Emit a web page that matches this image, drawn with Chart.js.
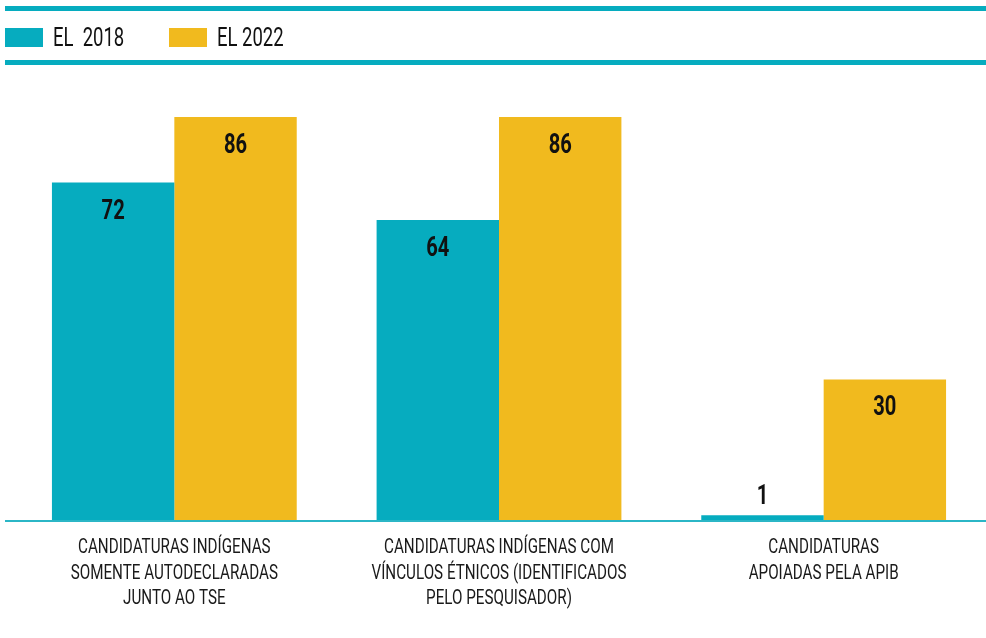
<!DOCTYPE html>
<html>
<head>
<meta charset="utf-8">
<script src="https://cdn.jsdelivr.net/npm/chart.js@4"></script>
<style>
  body { margin: 0; background: #fff; }
  #wrap { position: relative; width: 986px; height: 638px; }
  .rule { position: absolute; left: 5px; width: 981px; height: 5px; background: #06acbf; }
  #legend { position: absolute; left: 5px; top: 28px; height: 19px; display: flex; align-items: center;
            font-family: Roboto, 'Liberation Sans', sans-serif; font-size: 25px; color: #111; white-space: pre; }
  .item { display: flex; align-items: center; width: 164px; }
  .box { width: 38px; height: 19px; margin-right: 10px; flex: none; }
  .item span { display: inline-block; transform: scaleX(0.74); transform-origin: left center; line-height: 19px; }
</style>
</head>
<body>
<div id="wrap">
  <div class="rule" style="top:6px"></div>
  <div id="legend"></div>
  <div class="rule" style="top:60px"></div>
  <canvas id="myChart"></canvas>
</div>
<script>
// Categories (multi-line labels) and series
const categories = [
    ['CANDIDATURAS INDÍGENAS', 'SOMENTE AUTODECLARADAS', 'JUNTO AO TSE'],
    ['CANDIDATURAS INDÍGENAS COM', 'VÍNCULOS ÉTNICOS (IDENTIFICADOS', 'PELO PESQUISADOR)'],
    ['CANDIDATURAS', 'APOIADAS PELA APIB']
];
const seriesNames = ['EL  2018', 'EL 2022'];
const values2018 = [72, 64, 1];
const values2022 = [86, 86, 30];

const teal = '#06acbf';
const yellow = '#f1ba1e';
const fontFamily = "Roboto, 'Liberation Sans', sans-serif";

// Draw text squeezed horizontally (the original uses a condensed face)
function narrowText(ctx, text, x, y, sx) {
    ctx.save();
    ctx.translate(x, y);
    ctx.scale(sx, 1);
    ctx.fillText(text, 0, 0);
    ctx.restore();
}

// Value labels inside the bars (or above when the bar is too short)
const valueLabels = {
    id: 'valueLabels',
    afterDatasetsDraw(chart) {
        const ctx = chart.ctx;
        ctx.save();
        ctx.font = 'bold 28px ' + fontFamily;
        ctx.fillStyle = '#111';
        ctx.textAlign = 'center';
        ctx.textBaseline = 'alphabetic';
        chart.data.datasets.forEach(function(ds, i) {
            chart.getDatasetMeta(i).data.forEach(function(bar, j) {
                const h = bar.base - bar.y;
                const y = h > 50 ? bar.y + 36 : bar.y - 11;
                narrowText(ctx, String(ds.data[j]), bar.x, y, 0.72);
            });
        });
        ctx.restore();
    }
};

// Baseline under the bars and category labels below it
const baseline = {
    id: 'baseline',
    afterDatasetsDraw(chart) {
        const ctx = chart.ctx;
        const area = chart.chartArea;
        ctx.save();
        ctx.strokeStyle = '#2bb6c6';
        ctx.lineWidth = 2;
        ctx.beginPath();
        ctx.moveTo(5, area.bottom + 1);
        ctx.lineTo(chart.width, area.bottom + 1);
        ctx.stroke();

        ctx.font = '20px ' + fontFamily;
        ctx.fillStyle = '#1a1a1a';
        ctx.textAlign = 'center';
        ctx.textBaseline = 'alphabetic';
        chart.data.labels.forEach(function(lines, i) {
            const x = chart.scales.x.getPixelForValue(i);
            lines.forEach(function(line, k) {
                narrowText(ctx, line, x, area.bottom + 33 + k * 25.5, 0.76);
            });
        });
        ctx.restore();
    }
};

const ctx = document.getElementById('myChart').getContext('2d');
const myChart = new Chart(ctx, {
    type: 'bar',
    data: {
        labels: categories,
        datasets: [{
            label: seriesNames[0],
            data: values2018,
            backgroundColor: teal
        }, {
            label: seriesNames[1],
            data: values2022,
            backgroundColor: yellow
        }]
    },
    options: {
        responsive: true,
        maintainAspectRatio: false,
        animation: false,
        layout: { padding: { top: 117, left: 12, right: 0, bottom: 0 } },
        plugins: {
            legend: { display: false },
            tooltip: { enabled: false }
        },
        datasets: {
            bar: { categoryPercentage: 0.754, barPercentage: 1.0 }
        },
        scales: {
            x: {
                grid: { display: false, drawTicks: false },
                border: { display: false },
                ticks: { display: false },
                afterFit(scale) { scale.height = 118; }
            },
            y: {
                display: false,
                min: 0,
                max: 86
            }
        }
    },
    plugins: [valueLabels, baseline]
});

// Legend built from the datasets
const legend = document.getElementById('legend');
myChart.data.datasets.forEach(function(ds) {
    const item = document.createElement('div');
    item.className = 'item';
    const box = document.createElement('div');
    box.className = 'box';
    box.style.background = ds.backgroundColor;
    const text = document.createElement('span');
    text.textContent = ds.label;
    item.appendChild(box);
    item.appendChild(text);
    legend.appendChild(item);
});
</script>
</body>
</html>
